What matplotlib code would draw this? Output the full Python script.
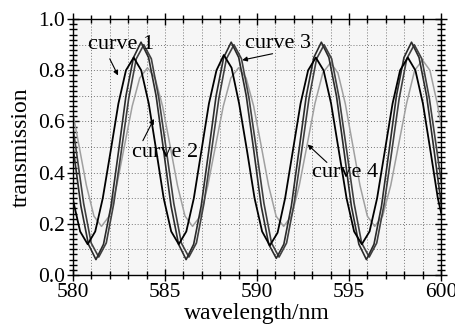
import numpy as np
import matplotlib.pyplot as plt
from matplotlib.ticker import MultipleLocator

plt.rcParams['font.family'] = ['Liberation Serif', 'DejaVu Serif']
plt.rcParams['font.size'] = 15

# curve 1 (black)
wl1 = [579.58, 579.98, 580.39, 580.80, 581.21, 581.62, 582.05, 582.47, 582.88, 583.30,
       583.71, 584.12, 584.53, 584.93, 585.34, 585.75, 586.16, 586.57, 586.98, 587.39,
       587.80, 588.20, 588.62, 589.03, 589.45, 589.87, 590.28, 590.70, 591.12, 591.53,
       591.95, 592.37, 592.78, 593.20, 593.62, 594.03, 594.45, 594.87, 595.28, 595.70,
       596.12, 596.53, 596.95, 597.37, 597.78, 598.20, 598.61, 599.02, 599.43, 599.83, 600.24]
tr1 = [0.485, 0.30, 0.17, 0.12, 0.17, 0.30, 0.485, 0.67, 0.80, 0.85,
       0.80, 0.67, 0.485, 0.30, 0.17, 0.12, 0.17, 0.30, 0.485, 0.67,
       0.80, 0.86, 0.81, 0.67, 0.49, 0.30, 0.17, 0.115, 0.165, 0.30,
       0.485, 0.67, 0.80, 0.85, 0.80, 0.67, 0.485, 0.30, 0.17, 0.12,
       0.17, 0.30, 0.485, 0.67, 0.80, 0.85, 0.80, 0.67, 0.485, 0.30, 0.17]

# curve 2
wl2 = [579.62, 580.03, 580.43, 580.84, 581.25, 581.66, 582.07, 582.48, 582.88, 583.29,
       583.70, 584.11, 584.52, 584.93, 585.33, 585.74, 586.15, 586.56, 586.97, 587.38,
       587.78, 588.19, 588.60, 589.01, 589.42, 589.83, 590.23, 590.64, 591.05, 591.46,
       591.87, 592.28, 592.68, 593.09, 593.50, 593.91, 594.32, 594.73, 595.13, 595.54,
       595.95, 596.36, 596.77, 597.18, 597.58, 597.99, 598.40, 598.81, 599.22, 599.63, 600.03]
tr2 = [0.70, 0.485, 0.27, 0.12, 0.06, 0.12, 0.27, 0.485, 0.70, 0.85,
       0.91, 0.85, 0.70, 0.485, 0.27, 0.12, 0.06, 0.12, 0.27, 0.485,
       0.70, 0.85, 0.91, 0.85, 0.70, 0.485, 0.27, 0.12, 0.065, 0.12,
       0.27, 0.485, 0.70, 0.85, 0.91, 0.85, 0.70, 0.485, 0.27, 0.12,
       0.06, 0.12, 0.27, 0.485, 0.70, 0.85, 0.91, 0.85, 0.70, 0.485, 0.27]

# curve 3
wl3 = [579.77, 580.18, 580.58, 580.99, 581.40, 581.81, 582.22, 582.63, 583.03, 583.44,
       583.85, 584.26, 584.67, 585.08, 585.48, 585.89, 586.30, 586.71, 587.12, 587.53,
       587.93, 588.34, 588.75, 589.16, 589.57, 589.98, 590.38, 590.79, 591.20, 591.61,
       592.02, 592.43, 592.83, 593.24, 593.65, 594.06, 594.47, 594.88, 595.28, 595.69,
       596.10, 596.51, 596.92, 597.33, 597.73, 598.14, 598.55, 598.96, 599.37, 599.78, 600.18]
tr3 = [0.69, 0.485, 0.28, 0.125, 0.07, 0.125, 0.28, 0.485, 0.69, 0.845,
       0.90, 0.845, 0.69, 0.485, 0.28, 0.125, 0.07, 0.125, 0.28, 0.485,
       0.69, 0.845, 0.90, 0.845, 0.69, 0.485, 0.28, 0.125, 0.07, 0.125,
       0.28, 0.485, 0.69, 0.845, 0.90, 0.845, 0.69, 0.485, 0.28, 0.125,
       0.07, 0.125, 0.28, 0.485, 0.69, 0.845, 0.90, 0.845, 0.69, 0.485, 0.28]

# curve 4 (light gray)
wl4 = [579.51, 579.92, 580.33, 580.73, 581.14, 581.55, 581.97, 582.38, 582.80, 583.22,
       583.63, 584.05, 584.46, 584.87, 585.28, 585.68, 586.09, 586.50, 586.92, 587.33,
       587.75, 588.17, 588.58, 589.00, 589.41, 589.82, 590.23, 590.63, 591.04, 591.45,
       591.88, 592.30, 592.73, 593.15, 593.58, 594.00, 594.40, 594.80, 595.20, 595.60,
       596.00, 596.40, 596.83, 597.27, 597.70, 598.13, 598.57, 599.00, 599.40, 599.80, 600.20]
tr4 = [0.78, 0.66, 0.505, 0.35, 0.23, 0.19, 0.23, 0.35, 0.505, 0.66,
       0.77, 0.81, 0.77, 0.66, 0.505, 0.35, 0.23, 0.19, 0.23, 0.35,
       0.505, 0.66, 0.77, 0.81, 0.77, 0.66, 0.505, 0.35, 0.23, 0.19,
       0.23, 0.35, 0.51, 0.67, 0.79, 0.83, 0.79, 0.67, 0.51, 0.35,
       0.23, 0.19, 0.23, 0.35, 0.51, 0.67, 0.80, 0.84, 0.80, 0.67, 0.51]

labels = ["curve 1", "curve 2", "curve 3", "curve 4"]
# (text x, text y, arrow tail x, y, arrow tip x, y)
annots = [(580.8, 0.90, 582.0, 0.845, 582.45, 0.78),
          (583.2, 0.48, 583.8, 0.525, 584.4, 0.61),
          (589.35, 0.905, 590.85, 0.865, 589.2, 0.84),
          (593.0, 0.40, 593.8, 0.44, 592.75, 0.51)]

fig = plt.figure(figsize=(4.56, 3.25), dpi=100)
ax = fig.add_axes([0.160, 0.154, 0.807, 0.787])
ax.set_facecolor('#f6f6f6')

# dotted grid
for v in np.arange(581, 600):
    ax.axvline(v, color='#777777', ls=(0, (1, 2)), lw=0.7, zorder=0)
for h in np.arange(0.1, 1.0, 0.1):
    ax.axhline(h, color='#777777', ls=(0, (1, 2)), lw=0.7, zorder=0)

ax.plot(wl4, tr4, color='#a0a0a0', lw=1.1)
ax.plot(wl3, tr3, color='#404040', lw=1.2)
ax.plot(wl2, tr2, color='#2a2a2a', lw=1.2)
ax.plot(wl1, tr1, color='#000000', lw=1.3)

for lab, (tx, ty, ax0, ay0, ax1, ay1) in zip(labels, annots):
    ax.text(tx, ty, lab, ha='left', va='center', fontsize=16)
    ax.annotate("", xy=(ax1, ay1), xytext=(ax0, ay0),
                arrowprops=dict(arrowstyle='-|>', color='black', lw=0.8,
                                mutation_scale=7, shrinkA=0, shrinkB=0))

ax.set_xlim(580, 600)
ax.set_ylim(0, 1.0)
ax.xaxis.set_major_locator(MultipleLocator(5))
ax.xaxis.set_minor_locator(MultipleLocator(1))
ax.yaxis.set_major_locator(MultipleLocator(0.2))
ax.yaxis.set_minor_locator(MultipleLocator(0.02))
ax.yaxis.set_major_formatter(plt.FormatStrFormatter('%.1f'))
ax.tick_params(which='both', direction='inout', top=True, right=True, width=1.0)
ax.tick_params(which='major', length=9)
ax.tick_params(which='minor', length=6)
ax.tick_params(labelsize=15.5, pad=1)
for s in ax.spines.values():
    s.set_linewidth(1.0)

ax.set_xlabel("wavelength/nm", fontsize=17, labelpad=1)
ax.set_ylabel("transmission", fontsize=17, labelpad=5)

fig.savefig("out.png", dpi=100)
